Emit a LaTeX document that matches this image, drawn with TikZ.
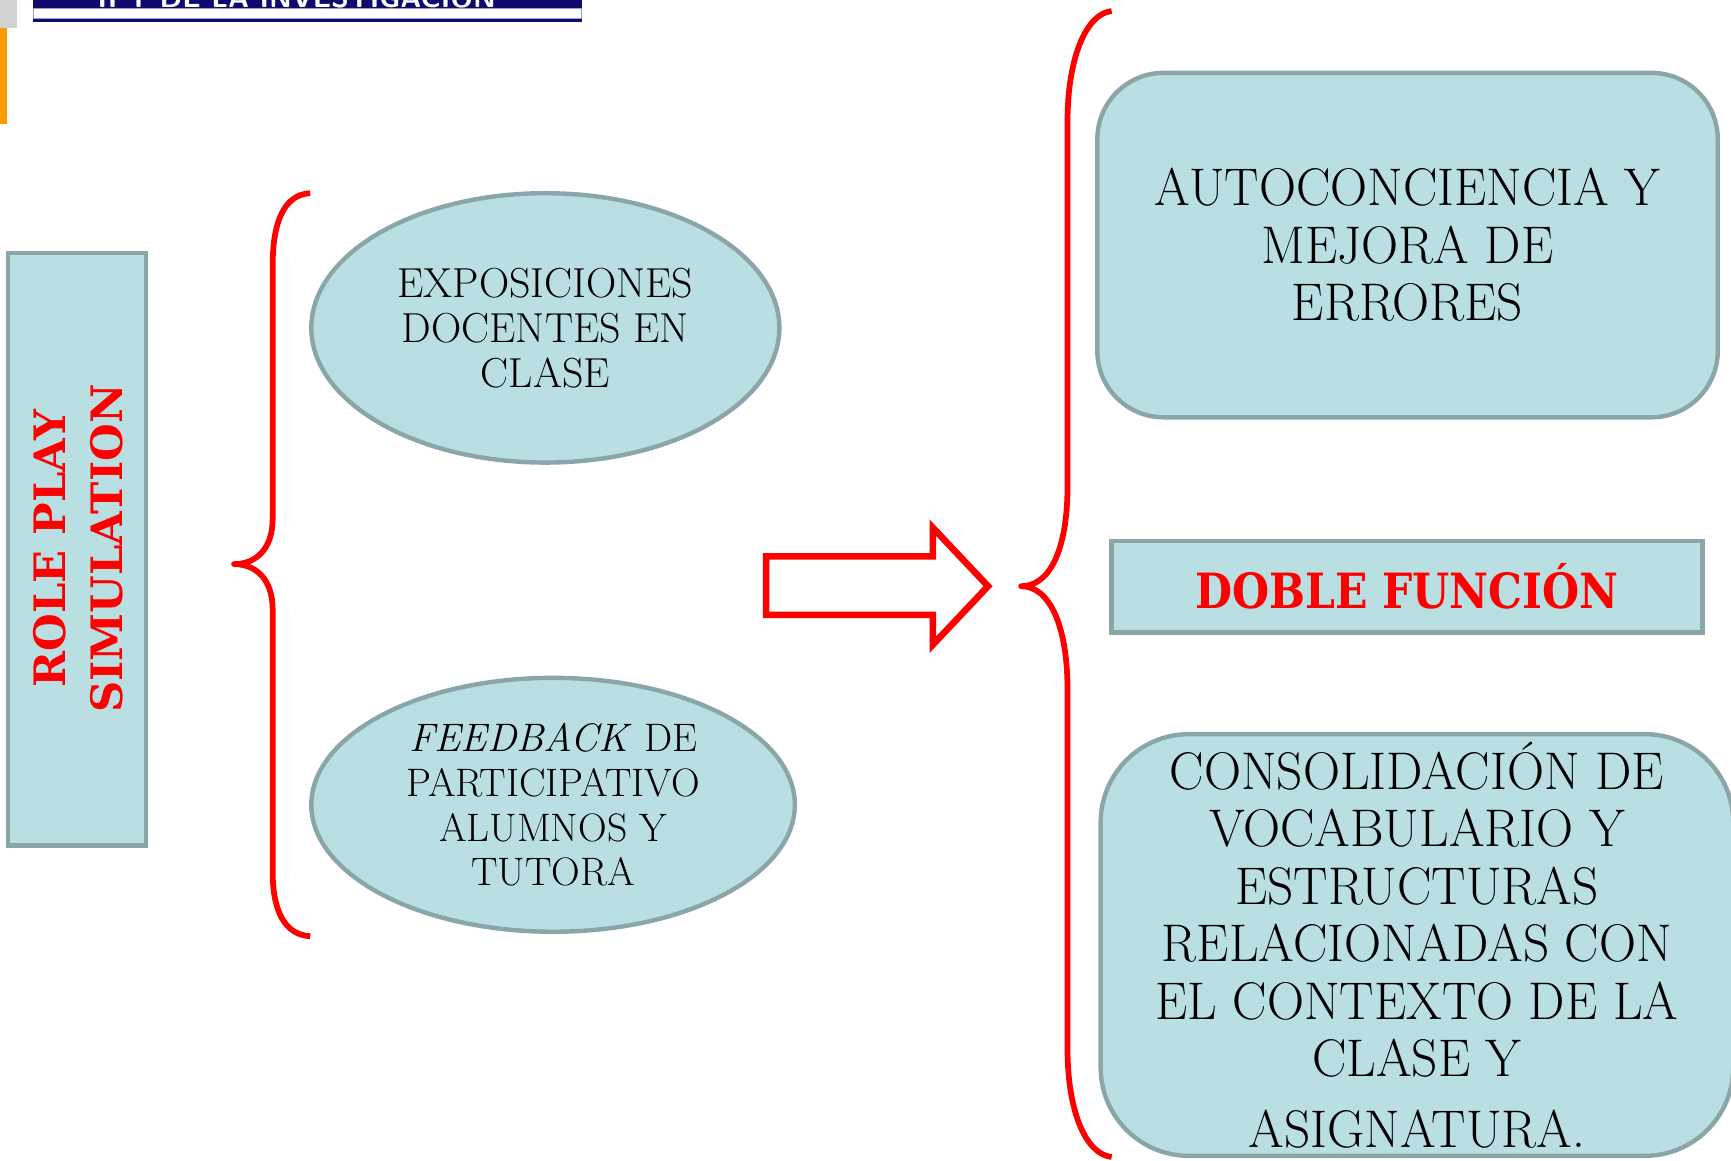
\documentclass[tikz,border=0pt]{standalone}
\usepackage{fontspec}
\usetikzlibrary{shapes.geometric}
\setmainfont{Latin Modern Roman}
\newfontfamily\boxfont[FakeStretch=0.97]{Latin Modern Roman}
\newfontfamily\slabfont{DejaVu Serif}
\newfontfamily\slabnarrow[FakeStretch=0.877]{DejaVu Serif}
\definecolor{boxfill}{RGB}{186,223,227}
\definecolor{boxline}{RGB}{138,166,168}
\definecolor{navy}{RGB}{14,10,110}
\definecolor{orangebar}{RGB}{255,153,0}
\definecolor{greysq}{RGB}{210,210,210}
\tikzset{
  tealbox/.style={draw=boxline, fill=boxfill, line width=2pt, inner sep=0pt},
  bracepath/.style={draw=red, line width=2.6pt, line join=round},
  bigarrow/.style={draw=red, line width=3pt, line join=miter, fill=white},
  ellfont/.style={font=\fontsize{19}{20.3}\selectfont, align=center},
  ellfontb/.style={font=\fontsize{18}{20.3}\selectfont, align=center},
  rbfont/.style={font=\boxfont\fontsize{24}{26}\selectfont, align=center},
}
\begin{document}
\begin{tikzpicture}[x=0.5pt,y=-0.5pt]
\useasboundingbox (0,0) rectangle (1568,1050.8);
% header
\fill[greysq] (0,0) rectangle (15,25);
\fill[orangebar] (0,25) rectangle (6,112);
\fill[navy] (30,0) rectangle (527,8);
\draw[navy!40, line width=0.4pt] (30,8) rectangle (527,17);
\fill[navy] (30,17) rectangle (527,20);
\begin{scope}
\clip (30,0) rectangle (527,8);
\node[anchor=base west, text=white, inner sep=0pt, font=\sffamily\bfseries\fontsize{13}{15}\selectfont] (hdr) at (88,7) {II Y DE LA INVESTIGACIÓN};
\end{scope}
% left box
\node[tealbox, rectangle, minimum width=62.5pt, minimum height=268.5pt] (role) at (69.5,497.5) {};
\node[rotate=90, text=red, align=center, inner sep=0pt, font=\slabfont\bfseries\fontsize{19.6}{26}\selectfont] (roletext) at (71,497) {ROLE PLAY\\SIMULATION};
% brace left
\draw[bracepath] (281,175) .. controls (258,176) and (247,200) .. (247,240) -- (247,470) .. controls (247,497) and (232,511) .. (212,511) .. controls (232,511) and (247,525) .. (247,552) -- (247,790) .. controls (247,825) and (258,847) .. (281,848);
% ellipses
\node[tealbox, ellipse, minimum width=212pt, minimum height=122pt, ellfont] (ell1) at (494,297) {EXPOSICIONES\\DOCENTES EN\\CLASE};
\node[tealbox, ellipse, minimum width=219pt, minimum height=115pt, ellfontb] (ell2) at (501,729) {\textit{FEEDBACK} DE\\PARTICIPATIVO\\ALUMNOS Y\\TUTORA};
% arrow
\draw[bigarrow] (694,504) -- (845,504) -- (845,478) -- (895,531) -- (845,584) -- (845,557) -- (694,557) -- cycle;
% brace right
\draw[bracepath] (1007,10) .. controls (985,12) and (967,50) .. (967,110) -- (967,440) .. controls (967,500) and (950,531) .. (925,531) .. controls (950,531) and (967,565) .. (967,625) -- (967,950) .. controls (967,1010) and (985,1046) .. (1007,1048);
% right boxes
\node[tealbox, rectangle, rounded corners=30pt, minimum width=281pt, minimum height=156pt, rbfont] (auto) at (1275,222) {AUTOCONCIENCIA Y\\MEJORA DE\\ERRORES};
\node[tealbox, rectangle, minimum width=267.5pt, minimum height=41.5pt, text=red, font=\slabnarrow\bfseries\fontsize{22}{26}\selectfont] (doble) at (1274.5,531.5) {DOBLE FUNCIÓN};
\node[tealbox, rectangle, rounded corners=40pt, minimum width=286.5pt, minimum height=191pt, rbfont] (cons) at (1283.5,856) {CONSOLIDACIÓN DE\\VOCABULARIO Y\\ESTRUCTURAS\\RELACIONADAS CON\\EL CONTEXTO DE LA\\CLASE Y\\[6pt]ASIGNATURA.};
\end{tikzpicture}
\end{document}
